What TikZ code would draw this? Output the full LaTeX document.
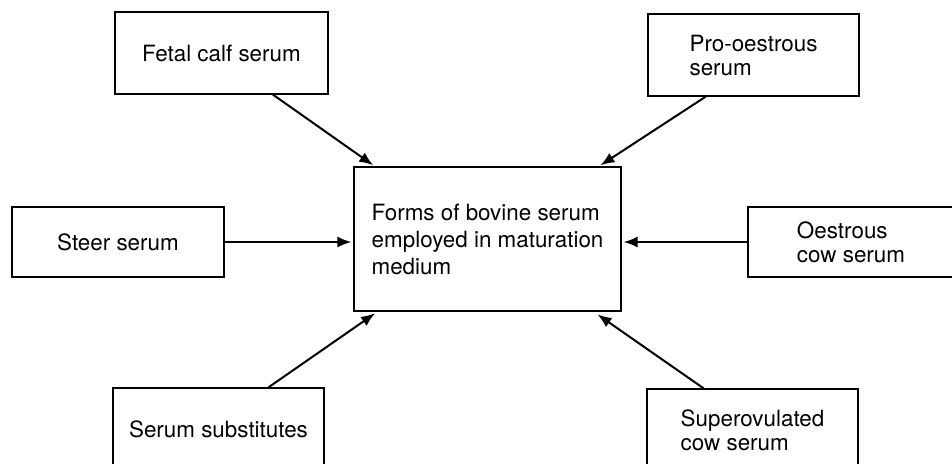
\documentclass[tikz,border=0pt]{standalone}
\usepackage{fontspec}
\setmainfont{TeX Gyre Heros}
\usepackage{tikz}
\usetikzlibrary{positioning,%
  calc,%
  arrows.meta}

\tikzset{
  serumbox/.style={draw,line width=0.6pt,minimum height=41pt,inner sep=2pt,
    font=\fontsize{11.2}{12}\selectfont,align=left},
  feed/.style={->,line width=1pt,shorten >=1pt},
  >={Latex[length=7pt,width=5.5pt]}
}

\begin{document}
\begin{tikzpicture}[x=0.5pt,y=-0.5pt]
            \useasboundingbox (0,0) rectangle (952,463);
            \clip (0,0) rectangle (952,463);

            \node[serumbox,minimum width=133.5pt,minimum height=72pt,
                font=\fontsize{11.2}{13.5}\selectfont] (forms) at (487.5,239)
                {Forms of bovine serum\\employed in maturation\\medium};

            \node[serumbox,minimum width=106.5pt] (fetal) at (221.5,53) {Fetal calf serum};
            \node[serumbox,minimum width=105.5pt] (prooes) at (753.5,55) {Pro-oestrous\\serum};
            \node[serumbox,minimum width=106pt,minimum height=35pt] (steer) at (118,242) {Steer serum};
            \node[serumbox,minimum width=103pt,minimum height=35pt] (oes) at (851,242) {Oestrous\\cow serum};
            \node[serumbox,minimum width=105.5pt] (subst) at (218.5,429) {Serum substitutes};
            \node[serumbox,minimum width=105.5pt] (superov) at (752.5,430) {Superovulated\\cow serum};

            \draw[feed] ($(fetal.south west)!.74!(fetal.south east)$)
                -- ($(forms.north west)!.08!(forms.north east)$);
            \draw[feed] ($(prooes.south west)!.275!(prooes.south east)$)
                -- ($(forms.north west)!.915!(forms.north east)$);
            \draw[feed] (steer.east) -- (steer.east -| forms.west);
            \draw[feed] (oes.west) -- (oes.west -| forms.east);
            \draw[feed,shorten >=1.5pt] ($(subst.north west)!.735!(subst.north east)$)
                -- ($(forms.south west)!.09!(forms.south east)$);
            \draw[feed,shorten >=2.5pt] ($(superov.north west)!.27!(superov.north east)$)
                -- ($(forms.south west)!.895!(forms.south east)$);
        \end{tikzpicture}
\end{document}
